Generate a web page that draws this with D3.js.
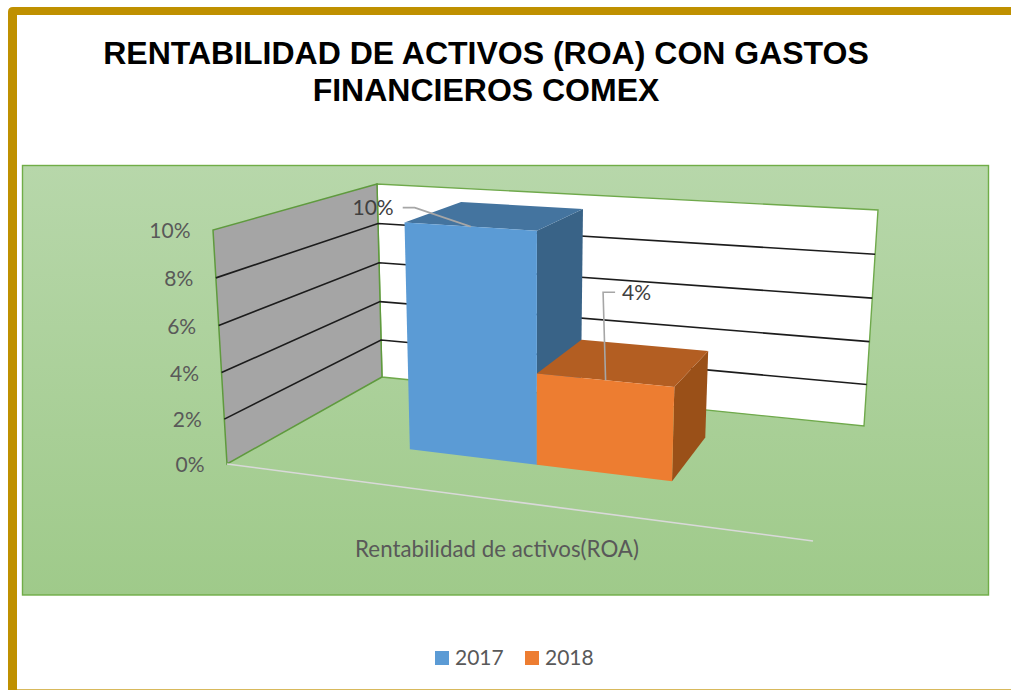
<!DOCTYPE html>
<html>
<head>
<meta charset="utf-8">
<script src="https://cdn.jsdelivr.net/npm/d3@7"></script>
<style>
html,body{margin:0;padding:0;background:#fff;overflow:hidden}
svg{display:block}
text{font-family:Lato,"Open Sans",sans-serif;fill:#595959}
</style>
</head>
<body>
<svg id="c" width="1011" height="690"></svg>
<script>
// ---- data ----
const titleLines = ["RENTABILIDAD DE ACTIVOS (ROA) CON GASTOS", "FINANCIEROS COMEX"];
const category = "Rentabilidad de activos(ROA)";
const seriesNames = ["2017", "2018"];
const seriesValues = [0.10, 0.04];
const seriesLabels = ["10%", "4%"];
const yTicks = [0, 0.02, 0.04, 0.06, 0.08, 0.10];
const seriesFront = ["#5b9bd5", "#ed7d31"];
const seriesTop = ["#44749f", "#b35e22"];
const seriesSide = ["#396387", "#9a5018"];

// ---- layout of the 3D box: screen position of its eight corners ----
const floorCorners = {fl:[227,464], fr:[813,541], bl:[382,377], br:[864,426]};
const topCorners   = {fl:[213,230], fr:[825,272], bl:[377,184], br:[878,210]};

const svg = d3.select("#c");
const defs = svg.append("defs");
const grad = defs.append("linearGradient").attr("id","panel").attr("x1",0).attr("y1",0).attr("x2",0).attr("y2",1);
grad.append("stop").attr("offset","0%").attr("stop-color","#b7d7aa");
grad.append("stop").attr("offset","100%").attr("stop-color","#9fca8a");

// page frame
svg.append("path").attr("d","M8,690V12Q8,7 13,7H1011V15H17V690Z").attr("fill","#bf9000");
svg.append("line").attr("x1",17).attr("x2",1011).attr("y1",689.5).attr("y2",689.5)
  .attr("stroke","#d8b95c").attr("stroke-width",1);

// title
svg.append("g").selectAll("text").data(titleLines).join("text")
  .attr("x",486).attr("y",(d,i)=>64+i*37).attr("text-anchor","middle")
  .style("font-family","'Liberation Sans',Arial,sans-serif").style("font-weight","700")
  .style("font-size","32px").style("fill","#000").text(d=>d);

// panel
svg.append("rect").attr("x",22.5).attr("y",165.5).attr("width",966).attr("height",429.5)
  .attr("fill","url(#panel)").attr("stroke","#70ad47").attr("stroke-width",1.4);

// scales: value -> height fraction, series edge -> across the floor, depth
const yScale = d3.scalePow().exponent(1.026).domain([0,0.10]).range([0,1]);
const xScale = d3.scaleLinear().domain([0,1,2]).range([0.234,0.465,0.711]);
const zScale = d3.scaleLinear().domain([0,1]).range([0.35,0.76]);

const lerp = (a,b,t)=>[a[0]+(b[0]-a[0])*t, a[1]+(b[1]-a[1])*t];
const bil = (c,u,w)=>lerp(lerp(c.fl,c.fr,u), lerp(c.bl,c.br,u), w);
// u across the box, value in data units, w into the depth
const project = (u,val,w)=>lerp(bil(floorCorners,u,w), bil(topCorners,u,w), yScale(val));
const pathOf = pts=>d3.line()(pts)+"Z";
const yMax = yScale.domain()[1];

// walls
const leftWall = [project(0,0,0),project(0,yMax,0),project(0,yMax,1),project(0,0,1)];
const backWall = [project(0,0,1),project(0,yMax,1),project(1,yMax,1),project(1,0,1)];
svg.append("path").attr("d",pathOf(backWall)).attr("fill","#fff").attr("stroke","#6fa94b").attr("stroke-width",1.4);
svg.append("path").attr("d",pathOf(leftWall)).attr("fill","#a5a5a5").attr("stroke","#5f9a3e").attr("stroke-width",1.5);

// gridlines
const gridVals = yTicks.filter(v=>v>0 && v<yMax);
svg.append("g").selectAll("path").data(gridVals).join("path")
  .attr("d",v=>d3.line()([project(0,v,0),project(0,v,1),project(1,v,1)]))
  .attr("fill","none").attr("stroke","#1c1c1c").attr("stroke-width",1.6);

// floor front edge (category axis)
svg.append("path").attr("d",d3.line()([project(0,0,0),project(1,0,0)]))
  .attr("stroke","#d9d9d9").attr("stroke-width",1.6).attr("fill","none");

// y tick labels
svg.append("g").selectAll("text").data(yTicks).join("text")
  .attr("x",v=>project(0,v,0)[0]-22.5).attr("y",v=>project(0,v,0)[1]+3)
  .attr("text-anchor","end").attr("dominant-baseline","middle")
  .style("font-size","21px").text(d3.format(".0%"));

// bars
seriesValues.forEach((v,i)=>{
  const u0=xScale(i), u1=xScale(i+1), w0=zScale(0), w1=zScale(1);
  const g=svg.append("g");
  g.append("path").attr("d",pathOf([project(u1,0,w0),project(u1,v,w0),project(u1,v,w1),project(u1,0,w1)])).attr("fill",seriesSide[i]);
  g.append("path").attr("d",pathOf([project(u0,v,w0),project(u1,v,w0),project(u1,v,w1),project(u0,v,w1)])).attr("fill",seriesTop[i]);
  g.append("path").attr("d",pathOf([project(u0,0,w0),project(u0,v,w0),project(u1,v,w0),project(u1,0,w0)])).attr("fill",seriesFront[i]);
});

// leader lines and value labels
const leaderBend = [[-56,-19],[-2.5,-88]];
const leaderTail = [[-12,0],[12,0]];
const labelOff   = [[-9,2],[7,2]];
seriesValues.forEach((v,i)=>{
  const a=project((xScale(i)+xScale(i+1))/2,v,zScale(0));
  const b=[a[0]+leaderBend[i][0],a[1]+leaderBend[i][1]];
  const c=[b[0]+leaderTail[i][0],b[1]+leaderTail[i][1]];
  svg.append("path").attr("d",d3.line()([a,b,c])).attr("fill","none").attr("stroke","#a6a6a6").attr("stroke-width",1.6);
  svg.append("text").attr("x",c[0]+labelOff[i][0]).attr("y",c[1]+labelOff[i][1])
    .attr("text-anchor",i?"start":"end").attr("dominant-baseline","middle")
    .style("font-size","21px").style("fill","#404040").text(seriesLabels[i]);
});

// category label
svg.append("text").attr("x",497).attr("y",557).attr("text-anchor","middle")
  .style("font-size","22.3px").text(category);

// legend
const legendX = d3.scalePoint().domain(seriesNames).range([435,525]);
const lg = svg.append("g").selectAll("g").data(seriesNames).join("g")
  .attr("transform",d=>`translate(${legendX(d)},651)`);
lg.append("rect").attr("width",14).attr("height",14).attr("fill",(d,i)=>seriesFront[i]);
lg.append("text").attr("x",20).attr("y",14).style("font-size","21px").text(d=>d);
</script>
</body>
</html>
